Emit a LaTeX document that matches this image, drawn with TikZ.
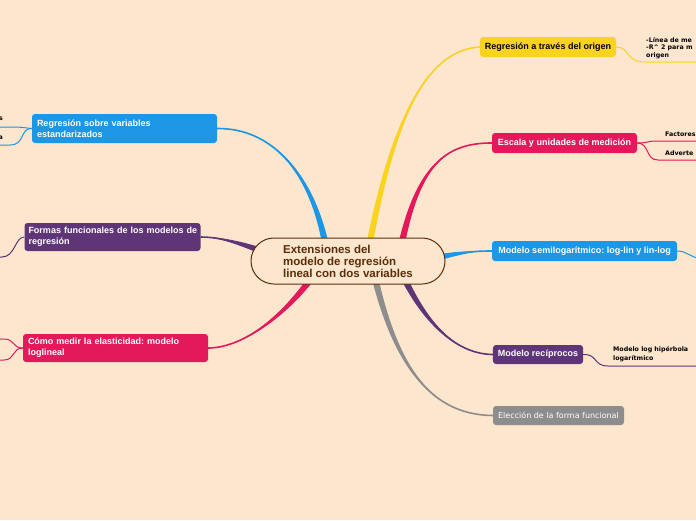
\documentclass[tikz,border=0pt]{standalone}
\usepackage{fontspec}
\setmainfont{Liberation Sans}
\newfontfamily\dvs{DejaVu Sans}
\usetikzlibrary{calc}
\frenchspacing
\definecolor{bg}{HTML}{FDE6CE}
\definecolor{cyellow}{HTML}{F9D31E}
\definecolor{cpink}{HTML}{E4195B}
\definecolor{cblue}{HTML}{1D96E6}
\definecolor{cpurple}{HTML}{5F3577}
\definecolor{cgray}{HTML}{8D8D8D}
\definecolor{cbrown}{HTML}{5A2E0A}
\newcommand\taper[6]{%
  \fill[#1] ($(#2)+(#6)$) .. controls ($(#3)+0.5*(#6)$) and (#4) .. (#5)
     .. controls (#4) and ($(#3)-0.5*(#6)$) .. ($(#2)-(#6)$) -- cycle;
  \draw[#1, line width=1.6pt] (#2) .. controls (#3) and (#4) .. (#5);}
\tikzset{
  mainbox/.style={rounded corners=3pt, text=white, inner xsep=5pt, inner ysep=2pt,
    font=\bfseries\fontsize{9}{11}\selectfont},
  subtxt/.style={inner sep=0pt, font=\dvs\bfseries\fontsize{6.3}{8}\selectfont, text=black, align=left},
  thinline/.style={line width=1pt},
}
\begin{document}
\begin{tikzpicture}[x=1pt,y=-1pt]
\useasboundingbox (0,0) rectangle (696,520);
\fill[bg] (0,0) rectangle (696,520);
\clip (0,0) rectangle (696,520);

% main nodes
\node[mainbox, fill=cyellow, text=black, minimum width=136pt, minimum height=20pt] (yel) at (548,47) {Regresión a través del origen};
\node[mainbox, fill=cpink, minimum width=145pt, minimum height=20pt] (esc) at (564.5,143) {Escala y unidades de medición};
\node[mainbox, fill=cblue, minimum width=185pt, minimum height=20pt] (sem) at (584.5,251) {Modelo semilogarítmico: log-lin y lin-log};
\node[mainbox, fill=cpurple, minimum width=90pt, minimum height=19pt] (rec) at (538,354.5) {Modelo recíprocos};
\node[mainbox, fill=cgray, minimum width=131pt, minimum height=19pt, font=\dvs\fontsize{8}{10}\selectfont] (ele) at (558.5,415.5) {Elección de la forma funcional};
\node[mainbox, fill=cblue, text width=175pt, minimum height=29pt, align=left] (est) at (124.5,128.5) {Regresión sobre variables\\estandarizados};
\node[mainbox, fill=cpurple, text width=168pt, inner xsep=4pt, minimum height=28pt, align=left] (for) at (112.5,237) {\mbox{Formas funcionales de los modelos de}\\regresión};
\node[mainbox, fill=cpink, text width=175pt, minimum height=28pt, align=left] (ela) at (115.5,348) {Cómo medir la elasticidad: modelo\\loglineal};

% branch start points on the central node
\coordinate (sy) at (370,242);
\coordinate (sp) at (402,242);
\coordinate (sb) at (440,257);
\coordinate (su) at (405,280);
\coordinate (sg) at (376,282);
\coordinate (lb) at (325,242);
\coordinate (lu) at (256,249);
\coordinate (lp) at (310,280);

\taper{cyellow}{sy}{395,110}{430,50}{yel.west}{3.2,0.4}
\taper{cpink}{sp}{420,160}{450,143}{esc.west}{3.2,0.5}
\taper{cblue}{sb}{465,252}{475,251}{sem.west}{0,3}
\taper{cpurple}{su}{430,330}{460,354}{rec.west}{2.8,-1.5}
\taper{cgray}{sg}{400,380}{440,415}{ele.west}{3.1,-0.7}
\taper{cblue}{lb}{310,170}{270,128}{est.east}{3.2,-0.4}
\taper{cpurple}{lu}{230,240}{215,237}{for.east}{0,3}
\taper{cpink}{lp}{280,320}{240,348}{ela.east}{2.5,2.1}

% central node
\node[draw=cbrown, line width=1pt, fill=bg, rounded corners=23pt, minimum width=194pt,
  minimum height=46pt, text=cbrown, font=\bfseries\fontsize{11.5}{12}\selectfont, align=left]
  (c) at (348,261) {Extensiones del\\modelo de regresión\\lineal con dos variables};

% right sub-branches
\node[subtxt, anchor=west] (y1) at (646,40) {-Línea de me};
\node[subtxt, anchor=west] (y2) at (646,48) {-R\^{} 2 para m};
\node[subtxt, anchor=west] (y3) at (646,56) {origen};
\coordinate (ye) at (700,62);
\draw[cyellow, thinline] (yel.east) .. controls (630,47) and (625,62) .. (645,62) -- (ye);

\node[subtxt, anchor=west] (e1) at (665,134) {Factores};
\node[subtxt, anchor=west] (e2) at (665,153) {Adverte};
\coordinate (ee1) at (700,141);
\coordinate (ee2) at (700,160);
\draw[cpink, thinline] (esc.east) .. controls (650,143) and (645,141) .. (658,141) -- (ee1);
\draw[cpink, thinline] (esc.east) .. controls (650,143) and (645,160) .. (658,160) -- (ee2);

\coordinate (se) at (700,258);
\draw[cblue, thinline] (sem.east) .. controls (688,251) and (690,258) .. (se);

\node[subtxt, anchor=west] (r1) at (613,350) {Modelo log hipérbola};
\node[subtxt, anchor=west] (r2) at (613,359) {logarítmico};
\coordinate (re) at (700,366);
\draw[cpurple, thinline] (rec.east) .. controls (598,354) and (593,366) .. (608,366) -- (re);

% left sub-branches
\node[subtxt, anchor=east] (b1) at (3,119) {s};
\node[subtxt, anchor=east] (b2) at (3,138) {a};
\coordinate (be1) at (-4,127);
\coordinate (be2) at (-4,145);
\draw[cblue, thinline] (est.west) .. controls (25,128) and (25,127) .. (18,127) -- (be1);
\draw[cblue, thinline] (est.west) .. controls (20,128) and (25,145) .. (10,145) -- (be2);

\coordinate (fe) at (-4,257);
\draw[cpurple, thinline] (for.west) .. controls (15,237) and (15,257) .. (2,257) -- (fe);

\coordinate (ae1) at (-4,339);
\coordinate (ae2) at (-4,360);
\draw[cpink, thinline] (ela.west) .. controls (12,348) and (15,339) .. (4,339) -- (ae1);
\draw[cpink, thinline] (ela.west) .. controls (12,348) and (15,360) .. (4,360) -- (ae2);
\end{tikzpicture}
\end{document}
